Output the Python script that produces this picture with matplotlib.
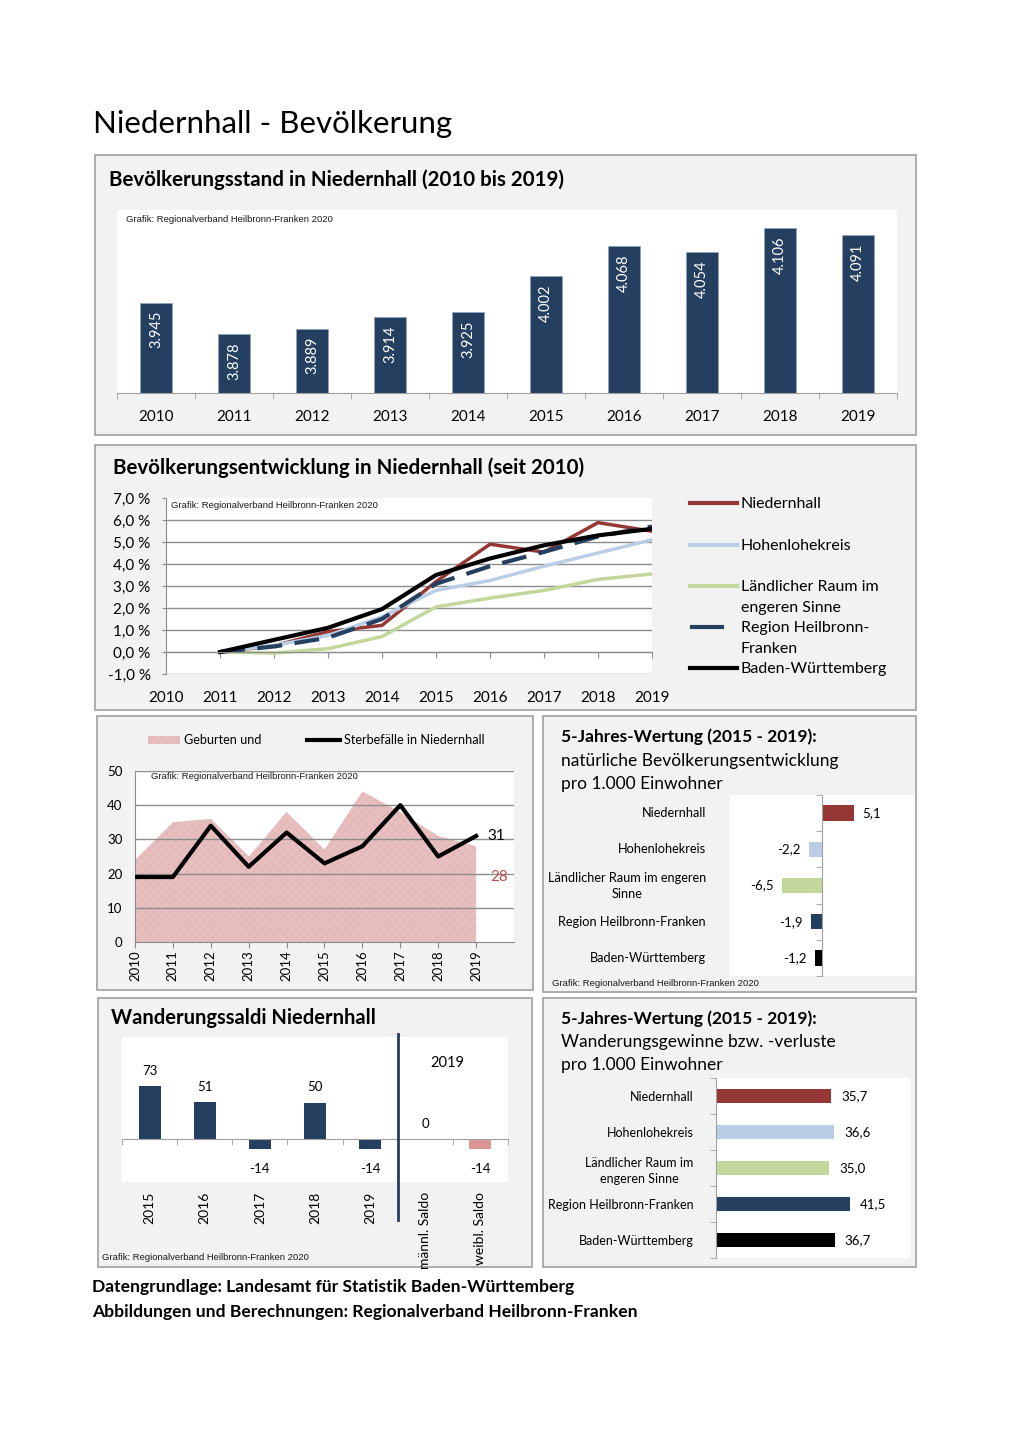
import numpy as np
import matplotlib
matplotlib.use('Agg')
import matplotlib.pyplot as plt
from matplotlib.patches import Rectangle
from matplotlib.lines import Line2D
import matplotlib.transforms as mtransforms

plt.rcParams['font.family'] = ['Lato', 'DejaVu Sans']
plt.rcParams['hatch.linewidth'] = 0.3

# ---------------------------------------------------------------------------
# Data
years = ['2010', '2011', '2012', '2013', '2014', '2015', '2016', '2017', '2018', '2019']
population = [3945, 3878, 3889, 3914, 3925, 4002, 4068, 4054, 4106, 4091]

# Bevoelkerungsentwicklung (% gegenueber 2011), Werte 2011..2019
dev_years = ['2011', '2012', '2013', '2014', '2015', '2016', '2017', '2018', '2019']
dev_niedernhall = [0.0, 0.28, 0.93, 1.21, 3.20, 4.90, 4.54, 5.88, 5.49]
dev_hohenlohe = [0.0, 0.30, 0.75, 1.60, 2.80, 3.25, 3.90, 4.50, 5.10]
dev_laendlich = [0.0, -0.05, 0.15, 0.70, 2.05, 2.45, 2.80, 3.30, 3.55]
dev_region = [0.0, 0.25, 0.65, 1.50, 3.10, 3.90, 4.55, 5.25, 5.70]
dev_bw = [0.0, 0.55, 1.10, 1.95, 3.50, 4.25, 4.85, 5.30, 5.60]

births = [24, 35, 36, 25, 38, 27, 44, 38, 31, 28]
deaths = [19, 19, 34, 22, 32, 23, 28, 40, 25, 31]

regions = ['Niedernhall', 'Hohenlohekreis', 'Ländlicher Raum im engeren\nSinne',
           'Region Heilbronn-Franken', 'Baden-Württemberg']
regions_b = ['Niedernhall', 'Hohenlohekreis', 'Ländlicher Raum im\nengeren Sinne',
             'Region Heilbronn-Franken', 'Baden-Württemberg']
natural_5y = [5.1, -2.2, -6.5, -1.9, -1.2]
migration_5y = [35.7, 36.6, 35.0, 41.5, 36.7]

mig_labels = ['2015', '2016', '2017', '2018', '2019', 'männl. Saldo', 'weibl. Saldo']
mig_values = [73, 51, -14, 50, -14, 0, -14]

# ---------------------------------------------------------------------------
NAVY = '#243F60'
RED = '#953735'
LBLUE = '#B9CDE5'
GREEN = '#C3D69B'
BLACK = '#000000'
PINK = '#E8BFBF'
GRID = '#8C8C8C'
region_colors = [RED, LBLUE, GREEN, NAVY, BLACK]

W, H = 1020, 1442
fig = plt.figure(figsize=(W / 100, H / 100), dpi=100)


def box(x0, y0, x1, y1):
    return [x0 / W, 1 - y1 / H, (x1 - x0) / W, (y1 - y0) / H]


def ftext(x, y, s, **kw):
    kw.setdefault('va', 'center')
    fig.text(x / W, 1 - y / H, s, **kw)


def panel(x0, y0, x1, y1):
    r = Rectangle((x0 / W, 1 - y1 / H), (x1 - x0) / W, (y1 - y0) / H,
                  transform=fig.transFigure, facecolor='#F2F2F2',
                  edgecolor='#A6A6A6', linewidth=1.3, zorder=-5)
    fig.add_artist(r)


def de(v, nd=1):
    return f'{v:.{nd}f}'.replace('.', ',')


NOTE = 'Grafik: Regionalverband Heilbronn-Franken 2020'
note_kw = dict(family='Liberation Sans', fontsize=6.8, color='#1a1a1a')

ftext(93, 124, 'Niedernhall - Bevölkerung', fontsize=22.5)

# ---------------------------------------------------------------------------
# Panel 1: Bevoelkerungsstand
panel(95, 155, 916, 435)
ftext(109, 180, 'Bevölkerungsstand in Niedernhall (2010 bis 2019)',
      fontsize=14.8, fontweight='bold')
ax1 = fig.add_axes(box(117, 210, 897, 393))
x = np.arange(len(years))
ax1.bar(x, population, width=0.4, color=NAVY, edgecolor='#8EA4C1', linewidth=0.5)
ax1.set_xlim(-0.5, len(years) - 0.5)
ax1.set_ylim(3750, 4145)
for xi, v in zip(x, population):
    ax1.annotate(f'{v:,}'.replace(',', '.'), (xi, v), xytext=(0, -6),
                 textcoords='offset points', rotation=90, ha='center', va='top',
                 color='white', fontsize=10.5)
for s in ['left', 'right', 'top']:
    ax1.spines[s].set_visible(False)
ax1.spines['bottom'].set_color('#A0A0A0')
ax1.set_yticks([])
ax1.set_xticks(x)
ax1.set_xticklabels(years, fontsize=11)
ax1.set_xticks(np.arange(-0.5, len(years)), minor=True)
ax1.tick_params(axis='x', which='major', length=0, pad=12)
ax1.tick_params(axis='x', which='minor', length=4, color='#A0A0A0')
ax1.text(0.011, 0.95, NOTE, transform=ax1.transAxes, va='center', **note_kw)

# ---------------------------------------------------------------------------
# Panel 2: Bevoelkerungsentwicklung
panel(95, 445, 916, 710)
ftext(113, 468, 'Bevölkerungsentwicklung in Niedernhall (seit 2010)',
      fontsize=14.8, fontweight='bold')
ax2 = fig.add_axes(box(166, 498, 652, 674))
xd = np.arange(1, len(dev_years) + 1)
ax2.plot(xd, dev_niedernhall, color=RED, lw=2.5)
ax2.plot(xd, dev_hohenlohe, color=LBLUE, lw=2.5)
ax2.plot(xd, dev_laendlich, color=GREEN, lw=2.5)
ax2.plot(xd, dev_region, color=NAVY, lw=3, dashes=(6, 3))
ax2.plot(xd, dev_bw, color=BLACK, lw=3)
ax2.set_xlim(0, len(years) - 1)
ax2.set_ylim(-1, 7)
ax2.set_yticks(range(-1, 8))
ax2.set_yticklabels([de(v) + ' %' for v in range(-1, 8)], fontsize=11)
for yv in range(-1, 7):
    ax2.axhline(yv, color=GRID, lw=1, zorder=0)
for s in ['right', 'top']:
    ax2.spines[s].set_visible(False)
ax2.spines['left'].set_color(GRID)
ax2.spines['bottom'].set_position(('data', 0))
ax2.spines['bottom'].set_color(GRID)
ax2.set_xticks(np.arange(len(years)))
ax2.set_xticklabels(years, fontsize=11)
ax2.tick_params(axis='x', length=4, color=GRID, pad=24)
ax2.tick_params(axis='y', length=3, color=GRID, pad=8)
ax2.text(0.01, 0.955, NOTE, transform=ax2.transAxes, va='center', **note_kw)

legend_items = [('Niedernhall', RED, 503, None),
                ('Hohenlohekreis', LBLUE, 545, None),
                ('Ländlicher Raum im\nengeren Sinne', GREEN, 586, None),
                ('Region Heilbronn-\nFranken', NAVY, 627, (6, 3)),
                ('Baden-Württemberg', BLACK, 668, None)]
for lab, col, yy, dsh in legend_items:
    x0, x1 = (692, 722) if dsh else (690, 737)
    ln = Line2D([x0 / W, x1 / W], [1 - yy / H, 1 - yy / H], color=col,
                lw=3, transform=fig.transFigure)
    fig.add_artist(ln)
    ftext(741, yy - 6, lab, fontsize=11.5, va='top', linespacing=1.62)

# ---------------------------------------------------------------------------
# Panel 3: Geburten und Sterbefaelle
panel(97, 716, 533, 990)
ax3 = fig.add_axes(box(135, 771, 514, 942))
xb = np.arange(len(years))
ax3.fill_between(xb, births, 0, facecolor=PINK, edgecolor='#DDAEAE',
                 hatch='xxxx', linewidth=0, label='Geburten und', zorder=1)
ax3.plot(xb, deaths, color=BLACK, lw=3, label='Sterbefälle in Niedernhall', zorder=3)
ax3.set_xlim(0, len(years))
ax3.set_ylim(0, 50)
for yv in range(10, 51, 10):
    ax3.axhline(yv, color=GRID, lw=1, zorder=2)
for s in ['right', 'top']:
    ax3.spines[s].set_visible(False)
ax3.spines['left'].set_color(GRID)
ax3.spines['bottom'].set_color(GRID)
ax3.set_xticks(xb)
ax3.set_xticklabels(years, rotation=90, fontsize=9.5)
ax3.set_yticks(range(0, 51, 10))
ax3.tick_params(axis='y', labelsize=9.5, length=0, pad=9)
ax3.tick_params(axis='x', length=4, color=GRID, pad=2)
ax3.annotate(str(deaths[-1]), (xb[-1], deaths[-1]), xytext=(8, 0),
             textcoords='offset points', va='center', ha='left', fontsize=11)
ax3.annotate(str(births[-1]), (xb[-1], births[-1]), xytext=(10, -22),
             textcoords='offset points', va='center', ha='left', fontsize=11,
             color='#C0504D')
ax3.text(0.042, 0.965, NOTE, transform=ax3.transAxes, va='center', **note_kw)
ax3.legend(loc='center', bbox_to_anchor=(316 / W, 1 - 740 / H),
           bbox_transform=fig.transFigure, ncol=2, frameon=False, fontsize=9.1,
           handlelength=2.6, handletextpad=0.3, columnspacing=3.6,
           handleheight=0.6)

# ---------------------------------------------------------------------------
# Panel 4: 5-Jahres-Wertung natuerliche Entwicklung
panel(543, 716, 916, 992)
ftext(561, 737, '5-Jahres-Wertung (2015 - 2019):', fontsize=12.5, fontweight='bold')
ftext(561, 761, 'natürliche Bevölkerungsentwicklung', fontsize=12.5)
ftext(561, 784, 'pro 1.000 Einwohner', fontsize=12.5)
ax4 = fig.add_axes(box(730, 795, 915, 976))
yr = np.arange(len(regions))
ax4.barh(yr, natural_5y, height=0.42, color=region_colors)
ax4.set_xlim(-15, 15)
ax4.set_ylim(len(regions) - 0.5, -0.5)
for s in ['right', 'top', 'bottom']:
    ax4.spines[s].set_visible(False)
ax4.spines['left'].set_position(('data', 0))
ax4.spines['left'].set_color('#A0A0A0')
ax4.set_xticks([])
ax4.set_yticks(yr)
ax4.set_yticklabels([])
ax4.set_yticks(np.arange(-0.5, len(regions)), minor=True)
ax4.tick_params(axis='y', which='major', length=0)
ax4.tick_params(axis='y', which='minor', length=4, color='#A0A0A0')
tr4 = mtransforms.blended_transform_factory(ax4.transAxes, ax4.transData)
for yi, lab in zip(yr, regions):
    ax4.text(-0.13, yi, lab, transform=tr4, ha='right', va='center',
             fontsize=9.2, multialignment='center', linespacing=1.4)
for yi, v in zip(yr, natural_5y):
    off = 6 if v > 0 else -6
    ax4.annotate(de(v), (v, yi), xytext=(off, 0), textcoords='offset points',
                 ha='left' if v > 0 else 'right', va='center', fontsize=9.5)
ftext(552, 984, NOTE, **note_kw)

# ---------------------------------------------------------------------------
# Panel 5: Wanderungssaldi
panel(98, 998, 532, 1267)
ftext(111, 1018, 'Wanderungssaldi Niedernhall', fontsize=14.5, fontweight='bold')
ax5 = fig.add_axes(box(122, 1037, 508, 1182))
xm = np.arange(len(mig_labels))
mig_colors = [NAVY] * 6 + ['#D99694']
ax5.bar(xm, mig_values, width=0.4, color=mig_colors, zorder=2)
ax5.set_xlim(-0.5, len(mig_labels) - 0.5)
ax5.set_ylim(-59, 140)
for s in ['left', 'right', 'top']:
    ax5.spines[s].set_visible(False)
ax5.spines['bottom'].set_position(('data', 0))
ax5.spines['bottom'].set_color('#A0A0A0')
ax5.set_yticks([])
ax5.set_xticks(xm)
ax5.set_xticklabels(mig_labels, rotation=90, fontsize=10, va='top')
ax5.set_xticks(np.arange(-0.5, len(mig_labels)), minor=True)
ax5.tick_params(axis='x', which='major', length=0, pad=38)
ax5.tick_params(axis='x', which='minor', length=4, color='#A0A0A0')
for xi, v in zip(xm, mig_values):
    off = 11 if v >= 0 else -14
    ax5.annotate(str(v), (xi, v), xytext=(0, off), textcoords='offset points',
                 ha='center', va='center', fontsize=9.5)
tr5 = mtransforms.blended_transform_factory(ax5.transData, ax5.transAxes)
ax5.plot([4.5, 4.5], [1.02, -0.26], color=NAVY, lw=2, transform=tr5,
         clip_on=False, zorder=4)
ax5.text(5.4, 0.82, '2019', transform=tr5, ha='center', va='center', fontsize=10.5)
ftext(102, 1257, NOTE, **note_kw)

# ---------------------------------------------------------------------------
# Panel 6: 5-Jahres-Wertung Wanderungen
panel(543, 998, 916, 1267)
ftext(561, 1019, '5-Jahres-Wertung (2015 - 2019):', fontsize=12.5, fontweight='bold')
ftext(561, 1042, 'Wanderungsgewinne bzw. -verluste', fontsize=12.5)
ftext(561, 1065, 'pro 1.000 Einwohner', fontsize=12.5)
ax6 = fig.add_axes(box(716, 1078, 910, 1258))
ax6.barh(yr, migration_5y, height=0.4, color=region_colors)
ax6.set_xlim(0, 60)
ax6.set_ylim(len(regions) - 0.5, -0.5)
for s in ['right', 'top', 'bottom']:
    ax6.spines[s].set_visible(False)
ax6.spines['left'].set_color('#A0A0A0')
ax6.set_xticks([])
ax6.set_yticks(yr)
ax6.set_yticklabels(regions_b, fontsize=9.0, multialignment='center',
                    linespacing=1.4)
ax6.set_yticks(np.arange(-0.5, len(regions)), minor=True)
ax6.tick_params(axis='y', which='major', length=0, pad=16)
ax6.tick_params(axis='y', which='minor', length=4, color='#A0A0A0')
for yi, v in zip(yr, migration_5y):
    ax6.annotate(de(v), (v, yi), xytext=(7, 0), textcoords='offset points',
                 ha='left', va='center', fontsize=9.5)

# ---------------------------------------------------------------------------
ftext(92, 1287, 'Datengrundlage: Landesamt für Statistik Baden-Württemberg',
      fontsize=12.6, fontweight='bold')
ftext(92, 1312, 'Abbildungen und Berechnungen: Regionalverband Heilbronn-Franken',
      fontsize=12.6, fontweight='bold')

fig.savefig('out.png', dpi=100, facecolor='white')
